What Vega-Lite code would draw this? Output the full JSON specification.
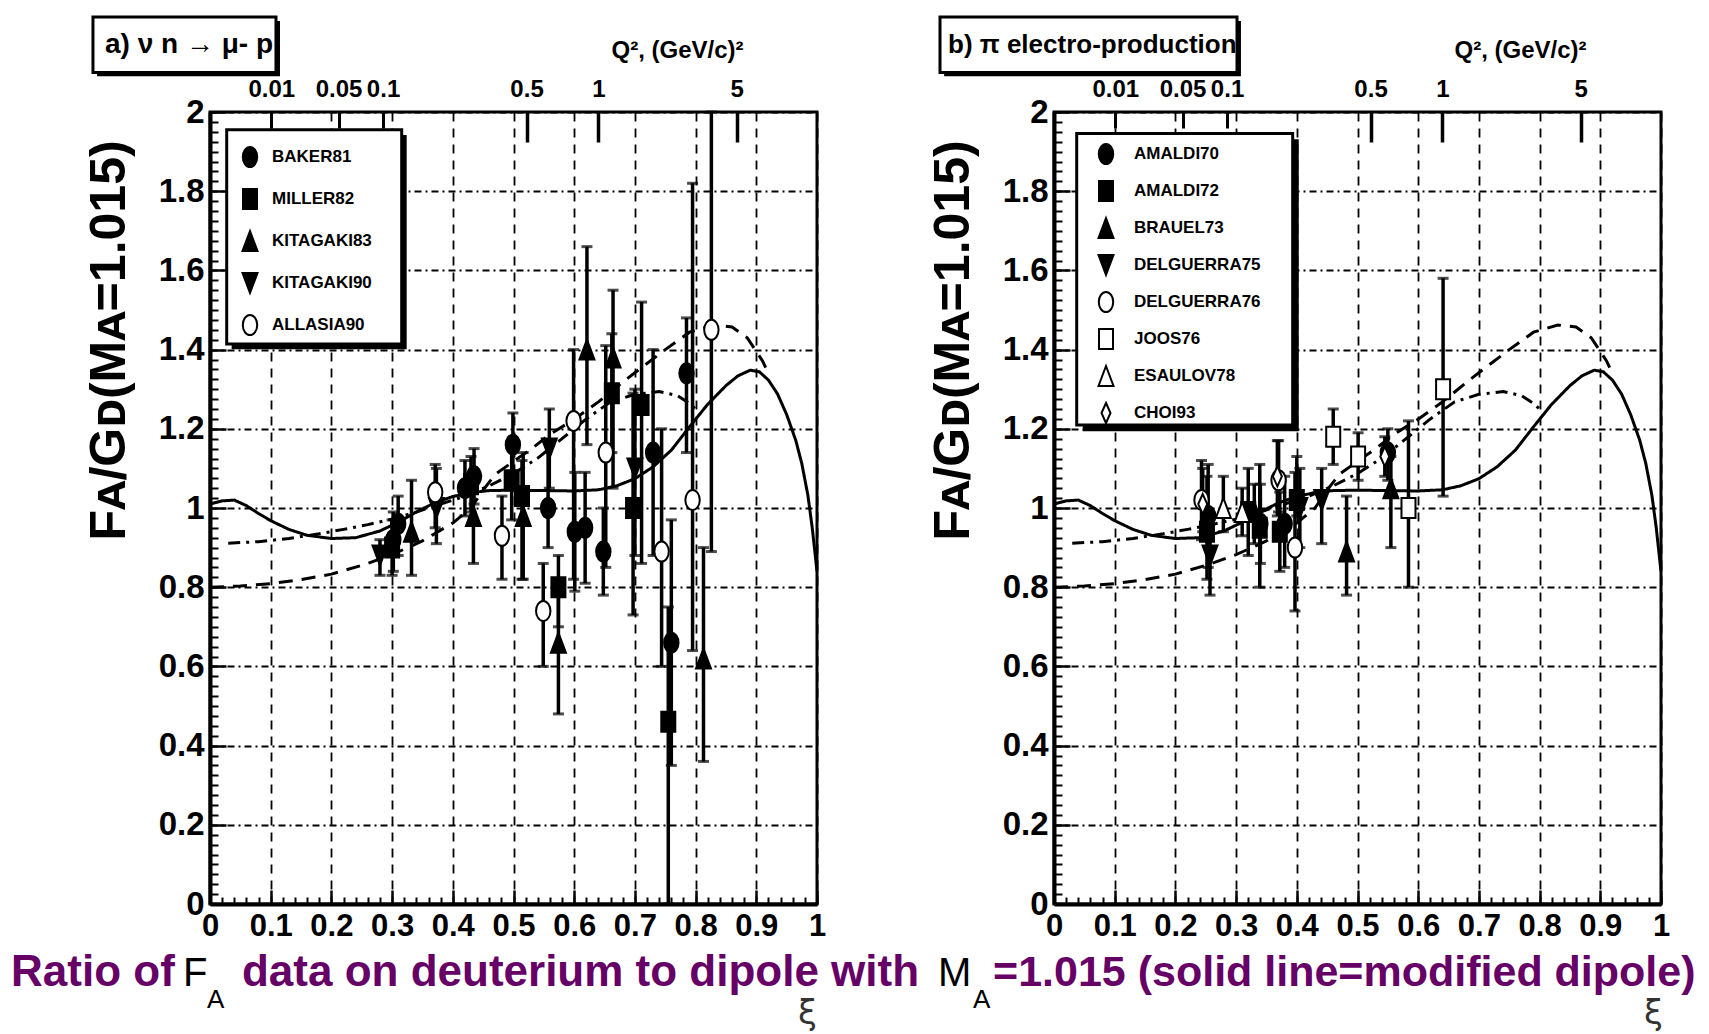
{
"$schema":"https://vega.github.io/schema/vega-lite/v6.json",
"autosize":{"type":"none"},
"padding":{"left":210,"top":112,"right":1499,"bottom":922},
"background":"white",
"spacing":237,
"bounds":"flush",
"resolve":{"scale":{"shape":"independent","fill":"independent","stroke":"independent"},"legend":{"shape":"independent","fill":"independent","stroke":"independent"}},
"config":{"view":{"stroke":"black","strokeWidth":3},"axis":{"labelAngle":0}},
"datasets":{
"curves":[
{"curve":"solid","xi":0,"r":1.010},{"curve":"solid","xi":0.02,"r":1.018},{"curve":"solid","xi":0.04,"r":1.020},{"curve":"solid","xi":0.06,"r":1.006},{"curve":"solid","xi":0.08,"r":0.986},{"curve":"solid","xi":0.1,"r":0.968},{"curve":"solid","xi":0.13,"r":0.946},{"curve":"solid","xi":0.16,"r":0.931},{"curve":"solid","xi":0.2,"r":0.923},{"curve":"solid","xi":0.24,"r":0.925},{"curve":"solid","xi":0.28,"r":0.942},{"curve":"solid","xi":0.31,"r":0.964},{"curve":"solid","xi":0.34,"r":0.990},{"curve":"solid","xi":0.37,"r":1.013},{"curve":"solid","xi":0.4,"r":1.029},{"curve":"solid","xi":0.43,"r":1.039},{"curve":"solid","xi":0.46,"r":1.044},{"curve":"solid","xi":0.5,"r":1.045},{"curve":"solid","xi":0.55,"r":1.044},{"curve":"solid","xi":0.6,"r":1.043},{"curve":"solid","xi":0.64,"r":1.046},{"curve":"solid","xi":0.67,"r":1.056},{"curve":"solid","xi":0.7,"r":1.074},{"curve":"solid","xi":0.73,"r":1.104},{"curve":"solid","xi":0.76,"r":1.146},{"curve":"solid","xi":0.79,"r":1.205},{"curve":"solid","xi":0.82,"r":1.262},{"curve":"solid","xi":0.85,"r":1.309},{"curve":"solid","xi":0.87,"r":1.334},{"curve":"solid","xi":0.89,"r":1.348},{"curve":"solid","xi":0.905,"r":1.344},{"curve":"solid","xi":0.92,"r":1.323},{"curve":"solid","xi":0.935,"r":1.288},{"curve":"solid","xi":0.95,"r":1.236},{"curve":"solid","xi":0.965,"r":1.171},{"curve":"solid","xi":0.975,"r":1.112},{"curve":"solid","xi":0.985,"r":1.032},{"curve":"solid","xi":0.992,"r":0.952},{"curve":"solid","xi":1,"r":0.84},
{"curve":"dashed","xi":0,"r":0.800},{"curve":"dashed","xi":0.05,"r":0.803},{"curve":"dashed","xi":0.1,"r":0.809},{"curve":"dashed","xi":0.15,"r":0.819},{"curve":"dashed","xi":0.2,"r":0.833},{"curve":"dashed","xi":0.25,"r":0.855},{"curve":"dashed","xi":0.3,"r":0.882},{"curve":"dashed","xi":0.35,"r":0.917},{"curve":"dashed","xi":0.4,"r":0.962},{"curve":"dashed","xi":0.43,"r":1.000},{"curve":"dashed","xi":0.45,"r":1.045},{"curve":"dashed","xi":0.47,"r":1.085},{"curve":"dashed","xi":0.5,"r":1.118},{"curve":"dashed","xi":0.53,"r":1.150},{"curve":"dashed","xi":0.56,"r":1.186},{"curve":"dashed","xi":0.6,"r":1.224},{"curve":"dashed","xi":0.64,"r":1.268},{"curve":"dashed","xi":0.69,"r":1.330},{"curve":"dashed","xi":0.75,"r":1.400},{"curve":"dashed","xi":0.79,"r":1.444},{"curve":"dashed","xi":0.83,"r":1.462},{"curve":"dashed","xi":0.86,"r":1.457},{"curve":"dashed","xi":0.885,"r":1.430},{"curve":"dashed","xi":0.91,"r":1.372},{"curve":"dashed","xi":0.92,"r":1.340},
{"curve":"dashdot","xi":0.03,"r":0.911},{"curve":"dashdot","xi":0.08,"r":0.915},{"curve":"dashdot","xi":0.13,"r":0.923},{"curve":"dashdot","xi":0.18,"r":0.935},{"curve":"dashdot","xi":0.22,"r":0.946},{"curve":"dashdot","xi":0.26,"r":0.958},{"curve":"dashdot","xi":0.3,"r":0.972},{"curve":"dashdot","xi":0.34,"r":0.990},{"curve":"dashdot","xi":0.38,"r":1.010},{"curve":"dashdot","xi":0.42,"r":1.030},{"curve":"dashdot","xi":0.46,"r":1.056},{"curve":"dashdot","xi":0.5,"r":1.087},{"curve":"dashdot","xi":0.54,"r":1.126},{"curve":"dashdot","xi":0.58,"r":1.175},{"curve":"dashdot","xi":0.62,"r":1.225},{"curve":"dashdot","xi":0.66,"r":1.268},{"curve":"dashdot","xi":0.7,"r":1.287},{"curve":"dashdot","xi":0.74,"r":1.294},{"curve":"dashdot","xi":0.77,"r":1.284},{"curve":"dashdot","xi":0.79,"r":1.264},{"curve":"dashdot","xi":0.8,"r":1.25}
],
"nu":[
{"exp":"BAKER81","xi":0.302,"r":0.92,"lo":0.84,"hi":0.99},{"exp":"BAKER81","xi":0.31,"r":0.96,"lo":0.88,"hi":1.03},{"exp":"BAKER81","xi":0.42,"r":1.05,"lo":0.98,"hi":1.12},{"exp":"BAKER81","xi":0.435,"r":1.08,"lo":1.01,"hi":1.15},{"exp":"BAKER81","xi":0.499,"r":1.16,"lo":1.09,"hi":1.24},{"exp":"BAKER81","xi":0.557,"r":1.00,"lo":0.90,"hi":1.17},{"exp":"BAKER81","xi":0.601,"r":0.94,"lo":0.79,"hi":1.09},{"exp":"BAKER81","xi":0.618,"r":0.95,"lo":0.81,"hi":1.09},{"exp":"BAKER81","xi":0.648,"r":0.89,"lo":0.78,"hi":1.00},{"exp":"BAKER81","xi":0.73,"r":1.14,"lo":0.88,"hi":1.40},{"exp":"BAKER81","xi":0.76,"r":0.66,"lo":0.35,"hi":0.97},{"exp":"BAKER81","xi":0.785,"r":1.34,"lo":1.14,"hi":1.48},
{"exp":"MILLER82","xi":0.30,"r":0.90,"lo":0.83,"hi":0.97},{"exp":"MILLER82","xi":0.43,"r":1.06,"lo":0.99,"hi":1.13},{"exp":"MILLER82","xi":0.497,"r":1.07,"lo":0.97,"hi":1.15},{"exp":"MILLER82","xi":0.514,"r":1.03,"lo":0.82,"hi":1.12},{"exp":"MILLER82","xi":0.574,"r":0.80,"lo":0.70,"hi":0.88},{"exp":"MILLER82","xi":0.662,"r":1.29,"lo":1.14,"hi":1.44},{"exp":"MILLER82","xi":0.697,"r":1.00,"lo":0.73,"hi":1.29},{"exp":"MILLER82","xi":0.711,"r":1.26,"lo":0.86,"hi":1.52},{"exp":"MILLER82","xi":0.755,"r":0.46,"lo":0.0,"hi":0.75},
{"exp":"KITAGAKI83","xi":0.332,"r":0.94,"lo":0.83,"hi":1.07},{"exp":"KITAGAKI83","xi":0.434,"r":0.98,"lo":0.86,"hi":1.05},{"exp":"KITAGAKI83","xi":0.516,"r":0.98,"lo":0.82,"hi":1.14},{"exp":"KITAGAKI83","xi":0.574,"r":0.66,"lo":0.48,"hi":0.80},{"exp":"KITAGAKI83","xi":0.621,"r":1.40,"lo":1.16,"hi":1.66},{"exp":"KITAGAKI83","xi":0.664,"r":1.38,"lo":1.05,"hi":1.55},{"exp":"KITAGAKI83","xi":0.813,"r":0.62,"lo":0.36,"hi":0.90},
{"exp":"KITAGAKI90","xi":0.280,"r":0.88,"lo":0.83,"hi":0.92},{"exp":"KITAGAKI90","xi":0.373,"r":1.00,"lo":0.91,"hi":1.10},{"exp":"KITAGAKI90","xi":0.559,"r":1.15,"lo":1.05,"hi":1.25},{"exp":"KITAGAKI90","xi":0.70,"r":1.10,"lo":0.88,"hi":1.30},
{"exp":"ALLASIA90","xi":0.371,"r":1.04,"lo":0.95,"hi":1.11},{"exp":"ALLASIA90","xi":0.481,"r":0.93,"lo":0.82,"hi":1.03},{"exp":"ALLASIA90","xi":0.549,"r":0.74,"lo":0.60,"hi":0.86},{"exp":"ALLASIA90","xi":0.599,"r":1.22,"lo":0.82,"hi":1.40},{"exp":"ALLASIA90","xi":0.652,"r":1.14,"lo":0.85,"hi":1.41},{"exp":"ALLASIA90","xi":0.744,"r":0.89,"lo":0.60,"hi":1.20},{"exp":"ALLASIA90","xi":0.795,"r":1.02,"lo":0.64,"hi":1.82},{"exp":"ALLASIA90","xi":0.826,"r":1.45,"lo":0.89,"hi":2.0}
],
"pi":[
{"exp":"AMALDI70","xi":0.254,"r":0.98,"lo":0.85,"hi":1.11},{"exp":"AMALDI70","xi":0.34,"r":0.96,"lo":0.86,"hi":1.06},{"exp":"AMALDI70","xi":0.38,"r":0.96,"lo":0.85,"hi":1.08},{"exp":"AMALDI70","xi":0.55,"r":1.14,"lo":1.07,"hi":1.20},
{"exp":"AMALDI72","xi":0.252,"r":0.94,"lo":0.82,"hi":1.08},{"exp":"AMALDI72","xi":0.32,"r":0.99,"lo":0.88,"hi":1.10},{"exp":"AMALDI72","xi":0.339,"r":0.95,"lo":0.80,"hi":1.11},{"exp":"AMALDI72","xi":0.372,"r":0.94,"lo":0.84,"hi":1.04},{"exp":"AMALDI72","xi":0.40,"r":1.02,"lo":0.98,"hi":1.13},
{"exp":"BRAUEL73","xi":0.482,"r":0.89,"lo":0.78,"hi":1.03},{"exp":"BRAUEL73","xi":0.555,"r":1.05,"lo":0.90,"hi":1.13},{"exp":"BRAUEL73","xi":0.33,"r":0.99,"lo":0.91,"hi":1.06},
{"exp":"DELGUERRA75","xi":0.257,"r":0.88,"lo":0.78,"hi":0.98},{"exp":"DELGUERRA75","xi":0.441,"r":1.02,"lo":0.91,"hi":1.10},{"exp":"DELGUERRA75","xi":0.405,"r":1.00,"lo":0.90,"hi":1.10},
{"exp":"DELGUERRA76","xi":0.243,"r":1.02,"lo":0.92,"hi":1.12},{"exp":"DELGUERRA76","xi":0.397,"r":0.90,"lo":0.74,"hi":1.09},{"exp":"DELGUERRA76","xi":0.37,"r":1.07,"lo":0.99,"hi":1.17},
{"exp":"JOOS76","xi":0.460,"r":1.18,"lo":1.11,"hi":1.25},{"exp":"JOOS76","xi":0.501,"r":1.13,"lo":1.07,"hi":1.19},{"exp":"JOOS76","xi":0.584,"r":1.00,"lo":0.80,"hi":1.22},{"exp":"JOOS76","xi":0.641,"r":1.30,"lo":1.03,"hi":1.58},
{"exp":"ESAULOV78","xi":0.279,"r":1.00,"lo":0.94,"hi":1.08},{"exp":"ESAULOV78","xi":0.31,"r":0.99,"lo":0.93,"hi":1.05},
{"exp":"CHOI93","xi":0.245,"r":1.01,"lo":0.94,"hi":1.10},{"exp":"CHOI93","xi":0.368,"r":1.08,"lo":0.98,"hi":1.17},{"exp":"CHOI93","xi":0.545,"r":1.13,"lo":1.08,"hi":1.18}
]
},
"hconcat":[
{
"width":607,"height":792,
"resolve":{"axis":{"x":"independent","y":"independent"}},
"layer":[
{"data":{"name":"curves"},"mark":{"type":"line","color":"black","strokeWidth":3},
"encoding":{
"x":{"field":"xi","type":"quantitative","scale":{"domain":[0,1],"nice":false,"zero":false},
"axis":{"orient":"bottom","values":[0,0.1,0.2,0.3,0.4,0.5,0.6,0.7,0.8,0.9,1],"format":"~g","labelFont":"Liberation Sans, Arial, sans-serif","labelFontSize":31,"labelFontWeight":"bold","labelColor":"black","labelPadding":21,"labelFlush":false,"labelOverlap":false,"labelBound":false,"tickSize":-14,"tickWidth":2.5,"tickColor":"black","domainColor":"black","domainWidth":4,"grid":true,"gridColor":"black","gridWidth":1.8,"gridDash":[9,7],"gridOpacity":1,"title":"ξ","titleFont":"DejaVu Sans","titleFontSize":34,"titleFontWeight":"normal","titleColor":"#333333","titleX":597,"titleY":109,"titleAlign":"center","titleBaseline":"middle"}},
"y":{"field":"r","type":"quantitative","scale":{"domain":[0,2],"nice":false,"zero":false},
"axis":{"orient":"left","values":[0,0.2,0.4,0.6,0.8,1,1.2,1.4,1.6,1.8,2],"format":"~g","labelFont":"Liberation Sans, Arial, sans-serif","labelFontSize":33,"labelFontWeight":"bold","labelColor":"black","labelPadding":22,"labelOverlap":false,"labelBound":false,"labelFlush":false,"tickSize":-16,"tickWidth":2.5,"tickColor":"black","domainColor":"black","domainWidth":4,"grid":true,"gridColor":"black","gridWidth":1.8,"gridDash":[7,4,2,4],"gridOpacity":1,"title":"Fᴀ/Gᴅ(Mᴀ=1.015)","titleFont":"Liberation Sans, DejaVu Sans, sans-serif","titleFontSize":50,"titleFontWeight":"bold","titleColor":"black","titleX":-101,"titleY":228,"titleAlign":"center","titleBaseline":"middle","titleAngle":270}},
"strokeDash":{"field":"curve","type":"nominal","scale":{"domain":["solid","dashed","dashdot"],"range":[[1,0],[14,9],[12,6,3,6]]},"legend":null}
}},
{"data":{"name":"nu"},"mark":{"type":"rule","color":"black","strokeWidth":3.5},
"encoding":{
"x":{"field":"xi","type":"quantitative","scale":{"domain":[0,1],"nice":false,"zero":false},
"axis":{"orient":"bottom","values":[0.02,0.04,0.06,0.08,0.12,0.14,0.16,0.18,0.22,0.24,0.26,0.28,0.32,0.34,0.36,0.38,0.42,0.44,0.46,0.48,0.52,0.54,0.56,0.58,0.62,0.64,0.66,0.68,0.72,0.74,0.76,0.78,0.82,0.84,0.86,0.88,0.92,0.94,0.96,0.98],"labels":false,"domain":false,"grid":false,"tickSize":-7,"tickWidth":2,"tickColor":"black","title":null}},
"y":{"field":"lo","type":"quantitative","scale":{"domain":[0,2],"nice":false,"zero":false},
"axis":{"orient":"left","values":[0.025,0.05,0.075,0.1,0.125,0.15,0.175,0.225,0.25,0.275,0.3,0.325,0.35,0.375,0.425,0.45,0.475,0.5,0.525,0.55,0.575,0.625,0.65,0.675,0.7,0.725,0.75,0.775,0.825,0.85,0.875,0.9,0.925,0.95,0.975,1.025,1.05,1.075,1.1,1.125,1.15,1.175,1.225,1.25,1.275,1.3,1.325,1.35,1.375,1.425,1.45,1.475,1.5,1.525,1.55,1.575,1.625,1.65,1.675,1.7,1.725,1.75,1.775,1.825,1.85,1.875,1.9,1.925,1.95,1.975],"labels":false,"domain":false,"grid":false,"tickSize":-8,"tickWidth":2,"tickColor":"black","title":null}},
"y2":{"field":"hi"}
}},
{"data":{"name":"nu"},"mark":{"type":"tick","orient":"horizontal","color":"black","size":11,"thickness":3},
"encoding":{
"x":{"field":"xi","type":"quantitative","scale":{"domain":[0,1],"nice":false,"zero":false},
"axis":{"orient":"top","values":[0.1011,0.2117,0.2851],"labelExpr":"datum.value < 0.15 ? '0.01' : datum.value < 0.25 ? '0.05' : '0.1'","labelFont":"Liberation Sans, Arial, sans-serif","labelFontSize":24,"labelFontWeight":"bold","labelColor":"black","labelPadding":27,"labelFlush":false,"labelOverlap":false,"labelBound":false,"tickSize":-16,"tickWidth":3,"tickColor":"black","domain":false,"grid":false,"title":null}},
"y":{"field":"lo","type":"quantitative","scale":{"domain":[0,2],"nice":false,"zero":false},"axis":null}
}},
{"data":{"name":"nu"},"mark":{"type":"tick","orient":"horizontal","color":"black","size":11,"thickness":3},
"encoding":{
"x":{"field":"xi","type":"quantitative","scale":{"domain":[0,1],"nice":false,"zero":false},
"axis":{"orient":"top","values":[0.5215,0.6398,0.8676],"labelExpr":"datum.value < 0.6 ? '0.5' : datum.value < 0.7 ? '1' : '5'","labelFont":"Liberation Sans, Arial, sans-serif","labelFontSize":24,"labelFontWeight":"bold","labelColor":"black","labelPadding":41,"labelFlush":false,"labelOverlap":false,"labelBound":false,"tickSize":-30,"tickWidth":3.5,"tickColor":"black","domain":false,"grid":false,"title":"Q², (GeV/c)²","titleFont":"Liberation Sans, Arial, sans-serif","titleFontSize":24,"titleFontWeight":"bold","titleColor":"black","titleX":467,"titleY":-62,"titleAlign":"center","titleBaseline":"middle"}},
"y":{"field":"hi","type":"quantitative","scale":{"domain":[0,2],"nice":false,"zero":false},"axis":null}
}},
{"data":{"name":"nu"},"mark":{"type":"point","filled":true,"size":400,"strokeWidth":2,"opacity":1},
"encoding":{
"x":{"field":"xi","type":"quantitative","scale":{"domain":[0,1],"nice":false,"zero":false},"axis":null},
"y":{"field":"r","type":"quantitative","scale":{"domain":[0,2],"nice":false,"zero":false},"axis":null},
"shape":{"field":"exp","type":"nominal","scale":{"domain":["BAKER81","MILLER82","KITAGAKI83","KITAGAKI90","ALLASIA90"],"range":["M0,-1A0.72,1 0 1,1 0,1A0.72,1 0 1,1 0,-1Z","M-0.7,-1H0.7V1H-0.7Z","M0,-1L0.75,1H-0.75Z","M0,1L0.75,-1H-0.75Z","M0,-1A0.72,1 0 1,1 0,1A0.72,1 0 1,1 0,-1Z"]},
"legend":{"orient":"none","legendX":29,"legendY":34,"title":null,"labelFont":"Liberation Sans, Arial, sans-serif","labelFontSize":17,"labelFontWeight":"bold","labelColor":"black","labelOffset":11,"rowPadding":14,"padding":0,"symbolSize":400,"symbolStrokeWidth":2,"zindex":3}},
"fill":{"field":"exp","type":"nominal","scale":{"domain":["BAKER81","MILLER82","KITAGAKI83","KITAGAKI90","ALLASIA90"],"range":["black","black","black","black","white"]},
"legend":{"orient":"none","legendX":29,"legendY":34,"title":null,"labelFont":"Liberation Sans, Arial, sans-serif","labelFontSize":17,"labelFontWeight":"bold","labelColor":"black","labelOffset":11,"rowPadding":14,"padding":0,"symbolSize":400,"symbolStrokeWidth":2,"zindex":3}},
"stroke":{"field":"exp","type":"nominal","scale":{"domain":["BAKER81","MILLER82","KITAGAKI83","KITAGAKI90","ALLASIA90"],"range":["black","black","black","black","black"]},
"legend":{"orient":"none","legendX":29,"legendY":34,"title":null,"labelFont":"Liberation Sans, Arial, sans-serif","labelFontSize":17,"labelFontWeight":"bold","labelColor":"black","labelOffset":11,"rowPadding":14,"padding":0,"symbolSize":400,"symbolStrokeWidth":2,"zindex":3}}
}},
{"data":{"values":[{}]},"mark":{"type":"rect","color":"black"},
"encoding":{"x":{"datum":0.0357,"type":"quantitative","scale":{"domain":[0,1],"nice":false,"zero":false},"axis":null},"x2":{"datum":0.324},"y":{"datum":1.942,"type":"quantitative","scale":{"domain":[0,2],"nice":false,"zero":false},"axis":null},"y2":{"datum":1.401}}},
{"data":{"values":[{}]},"mark":{"type":"rect","fill":"white","stroke":"black","strokeWidth":3},
"encoding":{"x":{"datum":0.0275,"type":"quantitative","scale":{"domain":[0,1],"nice":false,"zero":false},"axis":null},"x2":{"datum":0.3158},"y":{"datum":1.955,"type":"quantitative","scale":{"domain":[0,2],"nice":false,"zero":false},"axis":null},"y2":{"datum":1.414}}},
{"data":{"values":[{}]},"mark":{"type":"rect","color":"black"},
"encoding":{"x":{"datum":-0.186,"type":"quantitative","scale":{"domain":[0,1],"nice":false,"zero":false},"axis":null},"x2":{"datum":0.1153},"y":{"datum":2.23,"type":"quantitative","scale":{"domain":[0,2],"nice":false,"zero":false},"axis":null},"y2":{"datum":2.09}}},
{"data":{"values":[{}]},"mark":{"type":"rect","fill":"white","stroke":"black","strokeWidth":3},
"encoding":{"x":{"datum":-0.1928,"type":"quantitative","scale":{"domain":[0,1],"nice":false,"zero":false},"axis":null},"x2":{"datum":0.1087},"y":{"datum":2.24,"type":"quantitative","scale":{"domain":[0,2],"nice":false,"zero":false},"axis":null},"y2":{"datum":2.10}}},
{"data":{"values":[{}]},"mark":{"type":"text","text":"a) ν n → μ- p","align":"left","baseline":"middle","font":"Liberation Sans, Arial, sans-serif","fontSize":28,"fontWeight":"bold","color":"black"},
"encoding":{"x":{"datum":-0.173,"type":"quantitative","scale":{"domain":[0,1],"nice":false,"zero":false},"axis":null},"y":{"datum":2.168,"type":"quantitative","scale":{"domain":[0,2],"nice":false,"zero":false},"axis":null}}},
{"data":{"values":[{}]},"mark":{"type":"text","text":"Ratio of ","align":"left","baseline":"alphabetic","font":"Liberation Sans, Arial, sans-serif","fontSize":44,"fontWeight":"bold","color":"#660066"},
"encoding":{"x":{"datum":-0.3278,"type":"quantitative","scale":{"domain":[0,1],"nice":false,"zero":false},"axis":null},"y":{"datum":-0.207,"type":"quantitative","scale":{"domain":[0,2],"nice":false,"zero":false},"axis":null}}},
{"data":{"values":[{}]},"mark":{"type":"text","text":"F","align":"left","baseline":"alphabetic","font":"Liberation Sans, Arial, sans-serif","fontSize":40,"fontWeight":"normal","color":"black"},
"encoding":{"x":{"datum":-0.0445,"type":"quantitative","scale":{"domain":[0,1],"nice":false,"zero":false},"axis":null},"y":{"datum":-0.207,"type":"quantitative","scale":{"domain":[0,2],"nice":false,"zero":false},"axis":null}}},
{"data":{"values":[{}]},"mark":{"type":"text","text":"A","align":"left","baseline":"alphabetic","font":"Liberation Sans, Arial, sans-serif","fontSize":26,"fontWeight":"normal","color":"black"},
"encoding":{"x":{"datum":-0.005,"type":"quantitative","scale":{"domain":[0,1],"nice":false,"zero":false},"axis":null},"y":{"datum":-0.262,"type":"quantitative","scale":{"domain":[0,2],"nice":false,"zero":false},"axis":null}}},
{"data":{"values":[{}]},"mark":{"type":"text","text":"data on deuterium to  dipole with","align":"left","baseline":"alphabetic","font":"Liberation Sans, Arial, sans-serif","fontSize":44,"fontWeight":"bold","color":"#660066"},
"encoding":{"x":{"datum":0.0527,"type":"quantitative","scale":{"domain":[0,1],"nice":false,"zero":false},"axis":null},"y":{"datum":-0.207,"type":"quantitative","scale":{"domain":[0,2],"nice":false,"zero":false},"axis":null}}},
{"data":{"values":[{}]},"mark":{"type":"text","text":"M","align":"left","baseline":"alphabetic","font":"Liberation Sans, Arial, sans-serif","fontSize":40,"fontWeight":"normal","color":"black"},
"encoding":{"x":{"datum":1.1994,"type":"quantitative","scale":{"domain":[0,1],"nice":false,"zero":false},"axis":null},"y":{"datum":-0.207,"type":"quantitative","scale":{"domain":[0,2],"nice":false,"zero":false},"axis":null}}},
{"data":{"values":[{}]},"mark":{"type":"text","text":"A","align":"left","baseline":"alphabetic","font":"Liberation Sans, Arial, sans-serif","fontSize":26,"fontWeight":"normal","color":"black"},
"encoding":{"x":{"datum":1.257,"type":"quantitative","scale":{"domain":[0,1],"nice":false,"zero":false},"axis":null},"y":{"datum":-0.262,"type":"quantitative","scale":{"domain":[0,2],"nice":false,"zero":false},"axis":null}}},
{"data":{"values":[{}]},"mark":{"type":"text","text":"=1.015 (solid line=modified dipole)","align":"left","baseline":"alphabetic","font":"Liberation Sans, Arial, sans-serif","fontSize":43,"fontWeight":"bold","color":"#660066"},
"encoding":{"x":{"datum":1.29,"type":"quantitative","scale":{"domain":[0,1],"nice":false,"zero":false},"axis":null},"y":{"datum":-0.207,"type":"quantitative","scale":{"domain":[0,2],"nice":false,"zero":false},"axis":null}}}
]
},
{
"width":607,"height":792,
"resolve":{"axis":{"x":"independent","y":"independent"}},
"layer":[
{"data":{"name":"curves"},"mark":{"type":"line","color":"black","strokeWidth":3},
"encoding":{
"x":{"field":"xi","type":"quantitative","scale":{"domain":[0,1],"nice":false,"zero":false},
"axis":{"orient":"bottom","values":[0,0.1,0.2,0.3,0.4,0.5,0.6,0.7,0.8,0.9,1],"format":"~g","labelFont":"Liberation Sans, Arial, sans-serif","labelFontSize":31,"labelFontWeight":"bold","labelColor":"black","labelPadding":21,"labelFlush":false,"labelOverlap":false,"labelBound":false,"tickSize":-14,"tickWidth":2.5,"tickColor":"black","domainColor":"black","domainWidth":4,"grid":true,"gridColor":"black","gridWidth":1.8,"gridDash":[9,7],"gridOpacity":1,"title":"ξ","titleFont":"DejaVu Sans","titleFontSize":34,"titleFontWeight":"normal","titleColor":"#333333","titleX":599,"titleY":109,"titleAlign":"center","titleBaseline":"middle"}},
"y":{"field":"r","type":"quantitative","scale":{"domain":[0,2],"nice":false,"zero":false},
"axis":{"orient":"left","values":[0,0.2,0.4,0.6,0.8,1,1.2,1.4,1.6,1.8,2],"format":"~g","labelFont":"Liberation Sans, Arial, sans-serif","labelFontSize":33,"labelFontWeight":"bold","labelColor":"black","labelPadding":22,"labelOverlap":false,"labelBound":false,"labelFlush":false,"tickSize":-16,"tickWidth":2.5,"tickColor":"black","domainColor":"black","domainWidth":4,"grid":true,"gridColor":"black","gridWidth":1.8,"gridDash":[7,4,2,4],"gridOpacity":1,"title":"Fᴀ/Gᴅ(Mᴀ=1.015)","titleFont":"Liberation Sans, DejaVu Sans, sans-serif","titleFontSize":50,"titleFontWeight":"bold","titleColor":"black","titleX":-101,"titleY":228,"titleAlign":"center","titleBaseline":"middle","titleAngle":270}},
"strokeDash":{"field":"curve","type":"nominal","scale":{"domain":["solid","dashed","dashdot"],"range":[[1,0],[14,9],[12,6,3,6]]},"legend":null}
}},
{"data":{"name":"pi"},"mark":{"type":"rule","color":"black","strokeWidth":3.5},
"encoding":{
"x":{"field":"xi","type":"quantitative","scale":{"domain":[0,1],"nice":false,"zero":false},
"axis":{"orient":"bottom","values":[0.02,0.04,0.06,0.08,0.12,0.14,0.16,0.18,0.22,0.24,0.26,0.28,0.32,0.34,0.36,0.38,0.42,0.44,0.46,0.48,0.52,0.54,0.56,0.58,0.62,0.64,0.66,0.68,0.72,0.74,0.76,0.78,0.82,0.84,0.86,0.88,0.92,0.94,0.96,0.98],"labels":false,"domain":false,"grid":false,"tickSize":-7,"tickWidth":2,"tickColor":"black","title":null}},
"y":{"field":"lo","type":"quantitative","scale":{"domain":[0,2],"nice":false,"zero":false},
"axis":{"orient":"left","values":[0.025,0.05,0.075,0.1,0.125,0.15,0.175,0.225,0.25,0.275,0.3,0.325,0.35,0.375,0.425,0.45,0.475,0.5,0.525,0.55,0.575,0.625,0.65,0.675,0.7,0.725,0.75,0.775,0.825,0.85,0.875,0.9,0.925,0.95,0.975,1.025,1.05,1.075,1.1,1.125,1.15,1.175,1.225,1.25,1.275,1.3,1.325,1.35,1.375,1.425,1.45,1.475,1.5,1.525,1.55,1.575,1.625,1.65,1.675,1.7,1.725,1.75,1.775,1.825,1.85,1.875,1.9,1.925,1.95,1.975],"labels":false,"domain":false,"grid":false,"tickSize":-8,"tickWidth":2,"tickColor":"black","title":null}},
"y2":{"field":"hi"}
}},
{"data":{"name":"pi"},"mark":{"type":"tick","orient":"horizontal","color":"black","size":11,"thickness":3},
"encoding":{
"x":{"field":"xi","type":"quantitative","scale":{"domain":[0,1],"nice":false,"zero":false},
"axis":{"orient":"top","values":[0.1011,0.2117,0.2851],"labelExpr":"datum.value < 0.15 ? '0.01' : datum.value < 0.25 ? '0.05' : '0.1'","labelFont":"Liberation Sans, Arial, sans-serif","labelFontSize":24,"labelFontWeight":"bold","labelColor":"black","labelPadding":27,"labelFlush":false,"labelOverlap":false,"labelBound":false,"tickSize":-16,"tickWidth":3,"tickColor":"black","domain":false,"grid":false,"title":null}},
"y":{"field":"lo","type":"quantitative","scale":{"domain":[0,2],"nice":false,"zero":false},"axis":null}
}},
{"data":{"name":"pi"},"mark":{"type":"tick","orient":"horizontal","color":"black","size":11,"thickness":3},
"encoding":{
"x":{"field":"xi","type":"quantitative","scale":{"domain":[0,1],"nice":false,"zero":false},
"axis":{"orient":"top","values":[0.5215,0.6398,0.8676],"labelExpr":"datum.value < 0.6 ? '0.5' : datum.value < 0.7 ? '1' : '5'","labelFont":"Liberation Sans, Arial, sans-serif","labelFontSize":24,"labelFontWeight":"bold","labelColor":"black","labelPadding":41,"labelFlush":false,"labelOverlap":false,"labelBound":false,"tickSize":-30,"tickWidth":3.5,"tickColor":"black","domain":false,"grid":false,"title":"Q², (GeV/c)²","titleFont":"Liberation Sans, Arial, sans-serif","titleFontSize":24,"titleFontWeight":"bold","titleColor":"black","titleX":466,"titleY":-62,"titleAlign":"center","titleBaseline":"middle"}},
"y":{"field":"hi","type":"quantitative","scale":{"domain":[0,2],"nice":false,"zero":false},"axis":null}
}},
{"data":{"name":"pi"},"mark":{"type":"point","filled":true,"size":400,"strokeWidth":2,"opacity":1},
"encoding":{
"x":{"field":"xi","type":"quantitative","scale":{"domain":[0,1],"nice":false,"zero":false},"axis":null},
"y":{"field":"r","type":"quantitative","scale":{"domain":[0,2],"nice":false,"zero":false},"axis":null},
"shape":{"field":"exp","type":"nominal","scale":{"domain":["AMALDI70","AMALDI72","BRAUEL73","DELGUERRA75","DELGUERRA76","JOOS76","ESAULOV78","CHOI93"],"range":["M0,-1A0.72,1 0 1,1 0,1A0.72,1 0 1,1 0,-1Z","M-0.7,-1H0.7V1H-0.7Z","M0,-1L0.75,1H-0.75Z","M0,1L0.75,-1H-0.75Z","M0,-1A0.72,1 0 1,1 0,1A0.72,1 0 1,1 0,-1Z","M-0.7,-1H0.7V1H-0.7Z","M0,-1L0.75,1H-0.75Z","M0,-1L0.45,0L0,1L-0.45,0Z"]},
"legend":{"orient":"none","legendX":41,"legendY":31,"title":null,"labelFont":"Liberation Sans, Arial, sans-serif","labelFontSize":17,"labelFontWeight":"bold","labelColor":"black","labelOffset":17,"rowPadding":9,"padding":0,"symbolSize":400,"symbolStrokeWidth":2,"zindex":3}},
"fill":{"field":"exp","type":"nominal","scale":{"domain":["AMALDI70","AMALDI72","BRAUEL73","DELGUERRA75","DELGUERRA76","JOOS76","ESAULOV78","CHOI93"],"range":["black","black","black","black","white","white","white","white"]},
"legend":{"orient":"none","legendX":41,"legendY":31,"title":null,"labelFont":"Liberation Sans, Arial, sans-serif","labelFontSize":17,"labelFontWeight":"bold","labelColor":"black","labelOffset":17,"rowPadding":9,"padding":0,"symbolSize":400,"symbolStrokeWidth":2,"zindex":3}},
"stroke":{"field":"exp","type":"nominal","scale":{"domain":["AMALDI70","AMALDI72","BRAUEL73","DELGUERRA75","DELGUERRA76","JOOS76","ESAULOV78","CHOI93"],"range":["black","black","black","black","black","black","black","black"]},
"legend":{"orient":"none","legendX":41,"legendY":31,"title":null,"labelFont":"Liberation Sans, Arial, sans-serif","labelFontSize":17,"labelFontWeight":"bold","labelColor":"black","labelOffset":17,"rowPadding":9,"padding":0,"symbolSize":400,"symbolStrokeWidth":2,"zindex":3}}
}},
{"data":{"values":[{}]},"mark":{"type":"rect","color":"black"},
"encoding":{"x":{"datum":0.0474,"type":"quantitative","scale":{"domain":[0,1],"nice":false,"zero":false},"axis":null},"x2":{"datum":0.4032},"y":{"datum":1.931,"type":"quantitative","scale":{"domain":[0,2],"nice":false,"zero":false},"axis":null},"y2":{"datum":1.194}}},
{"data":{"values":[{}]},"mark":{"type":"rect","fill":"white","stroke":"black","strokeWidth":3},
"encoding":{"x":{"datum":0.0374,"type":"quantitative","scale":{"domain":[0,1],"nice":false,"zero":false},"axis":null},"x2":{"datum":0.3932},"y":{"datum":1.946,"type":"quantitative","scale":{"domain":[0,2],"nice":false,"zero":false},"axis":null},"y2":{"datum":1.2096}}},
{"data":{"values":[{}]},"mark":{"type":"rect","color":"black"},
"encoding":{"x":{"datum":-0.181,"type":"quantitative","scale":{"domain":[0,1],"nice":false,"zero":false},"axis":null},"x2":{"datum":0.308},"y":{"datum":2.23,"type":"quantitative","scale":{"domain":[0,2],"nice":false,"zero":false},"axis":null},"y2":{"datum":2.09}}},
{"data":{"values":[{}]},"mark":{"type":"rect","fill":"white","stroke":"black","strokeWidth":3},
"encoding":{"x":{"datum":-0.1878,"type":"quantitative","scale":{"domain":[0,1],"nice":false,"zero":false},"axis":null},"x2":{"datum":0.3015},"y":{"datum":2.24,"type":"quantitative","scale":{"domain":[0,2],"nice":false,"zero":false},"axis":null},"y2":{"datum":2.10}}},
{"data":{"values":[{}]},"mark":{"type":"text","text":"b) π electro-production","align":"left","baseline":"middle","font":"Liberation Sans, Arial, sans-serif","fontSize":26,"fontWeight":"bold","color":"black"},
"encoding":{"x":{"datum":-0.1746,"type":"quantitative","scale":{"domain":[0,1],"nice":false,"zero":false},"axis":null},"y":{"datum":2.168,"type":"quantitative","scale":{"domain":[0,2],"nice":false,"zero":false},"axis":null}}}
]
}
]
}
